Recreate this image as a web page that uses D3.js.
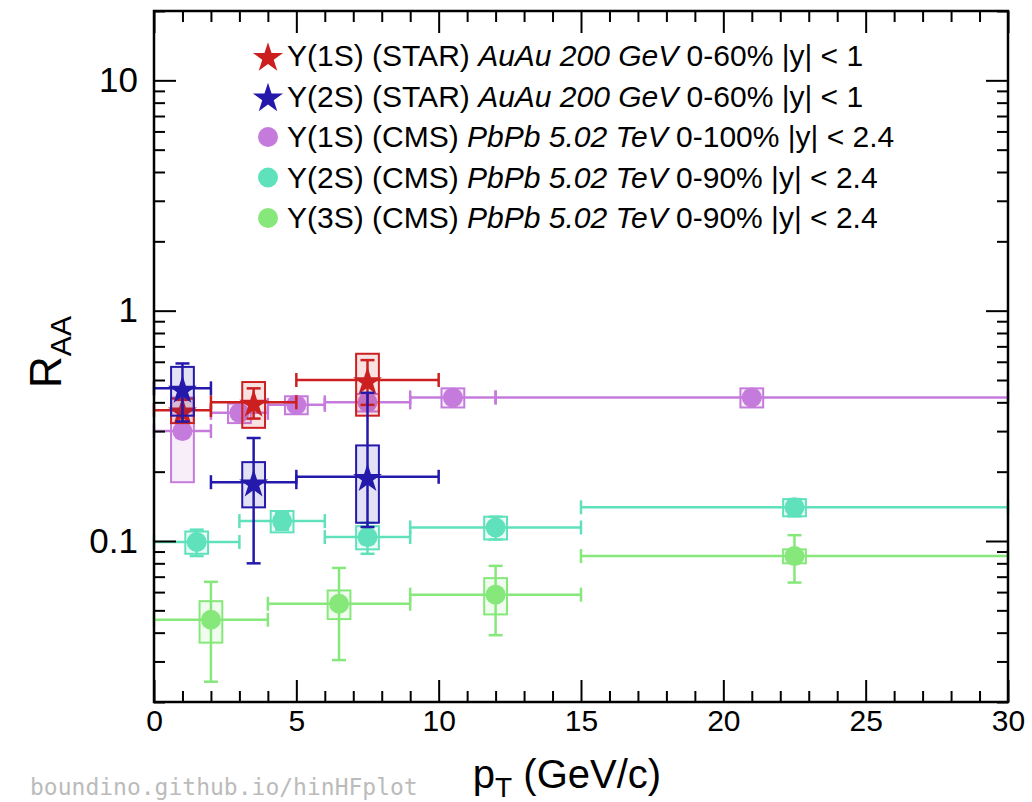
<!DOCTYPE html>
<html><head><meta charset="utf-8">
<script src="https://cdn.jsdelivr.net/npm/d3@7"></script>
<style>body{margin:0;background:#fff}svg{display:block}</style>
</head><body>
<svg id="c" width="1032" height="802"></svg>
<script>
// ---- data ----
const xMajorTicks = [0, 5, 10, 15, 20, 25, 30];
const yMajorTicks = [0.1, 1, 10];
const yTickLabels = ["0.1", "1", "10"];

// STAR AuAu 200 GeV
const starX   = [1, 3.5, 7.5];
const starXlo = [0, 2, 5];
const starXhi = [2, 5, 10];
const star1S      = [0.37, 0.40, 0.50];
const star1SStatLo = [0.04, 0.06, 0.11];
const star1SStatHi = [0.04, 0.06, 0.11];
const star1SSys   = [0.045, 0.09, 0.15];
const star2S      = [0.46, 0.18, 0.19];
const star2SStatLo = [0.13, 0.10, 0.075];
const star2SStatHi = [0.13, 0.10, 0.25];
const star2SSys   = [0.11, 0.04, 0.07];

// CMS PbPb 5.02 TeV
const cms1SX   = [1, 3, 5, 7.5, 10.5, 21];
const cms1SXlo = [0, 2, 4, 6, 9, 12];
const cms1SXhi = [2, 4, 6, 9, 12, 30];
const cms1S     = [0.30, 0.36, 0.39, 0.40, 0.42, 0.42];
const cms1SStat = [0.01, 0.01, 0.01, 0.01, 0.012, 0.015];
const cms1SSys  = [0.12, 0.035, 0.035, 0.035, 0.04, 0.04];

const cms2SX   = [1.5, 4.5, 7.5, 12, 22.5];
const cms2SXlo = [0, 3, 6, 9, 15];
const cms2SXhi = [3, 6, 9, 15, 30];
const cms2S     = [0.099, 0.122, 0.104, 0.1145, 0.14];
const cms2SStat = [0.013, 0.01, 0.016, 0.013, 0.012];
const cms2SSys  = [0.011, 0.013, 0.012, 0.013, 0.012];

const cms3SX   = [2, 6.5, 12, 22.5];
const cms3SXlo = [0, 4, 9, 15];
const cms3SXhi = [4, 9, 15, 30];
const cms3S     = [0.0455, 0.0534, 0.0585, 0.086];
const cms3SStat = [0.021, 0.023, 0.0195, 0.02];
const cms3SSys  = [0.0093, 0.0076, 0.0105, 0.006];

const legendEntries = [
  {pre: "Υ(1S) (STAR) ", it: "AuAu 200 GeV", post: " 0-60% |y| < 1", color: "#cc2020", shape: "star"},
  {pre: "Υ(2S) (STAR) ", it: "AuAu 200 GeV", post: " 0-60% |y| < 1", color: "#2419ab", shape: "star"},
  {pre: "Υ(1S) (CMS) ", it: "PbPb 5.02 TeV", post: " 0-100% |y| < 2.4", color: "#c57bdc", shape: "circle"},
  {pre: "Υ(2S) (CMS) ", it: "PbPb 5.02 TeV", post: " 0-90% |y| < 2.4", color: "#5fe1bc", shape: "circle"},
  {pre: "Υ(3S) (CMS) ", it: "PbPb 5.02 TeV", post: " 0-90% |y| < 2.4", color: "#86e87a", shape: "circle"}
];

// ---- layout ----
const L = 154, R = 1008, T = 11, B = 702;
const svg = d3.select("#c");
const x = d3.scaleLinear().domain([0, 30]).range([L, R]);
const y = d3.scaleLog().domain([0.02, 20]).range([B, T]);
const FONT = "'Liberation Sans', Arial, Helvetica, sans-serif";

function mkSeries(xs, xlo, xhi, v, slo, shi, sys, color, shape) {
  return xs.map((xx, i) => ({x: xx, xlo: xlo[i], xhi: xhi[i], v: v[i],
    slo: slo[i], shi: shi[i], sys: sys[i], color, shape}));
}
const series = [
  mkSeries(cms1SX, cms1SXlo, cms1SXhi, cms1S, cms1SStat, cms1SStat, cms1SSys, legendEntries[2].color, "circle"),
  mkSeries(cms2SX, cms2SXlo, cms2SXhi, cms2S, cms2SStat, cms2SStat, cms2SSys, legendEntries[3].color, "circle"),
  mkSeries(cms3SX, cms3SXlo, cms3SXhi, cms3S, cms3SStat, cms3SStat, cms3SSys, legendEntries[4].color, "circle"),
  mkSeries(starX, starXlo, starXhi, star1S, star1SStatLo, star1SStatHi, star1SSys, legendEntries[0].color, "star"),
  mkSeries(starX, starXlo, starXhi, star2S, star2SStatLo, star2SStatHi, star2SSys, legendEntries[1].color, "star")
];

const plot = svg.append("g");
const boxHalf = 0.4, cap = 7, lw = 2.5;
const starSym = d3.symbol().type(d3.symbolStar).size(260);
const starSymLeg = d3.symbol().type(d3.symbolStar).size(280);

series.forEach(s => {
  const g = plot.append("g");
  g.selectAll("rect.sys").data(s).join("rect").attr("class", "sys")
    .attr("x", d => x(d.x - boxHalf)).attr("width", d => x(d.x + boxHalf) - x(d.x - boxHalf))
    .attr("y", d => y(d.v + d.sys)).attr("height", d => y(d.v - d.sys) - y(d.v + d.sys))
    .attr("fill", d => d.color).attr("fill-opacity", 0.13)
    .attr("stroke", d => d.color).attr("stroke-width", 2);
  g.selectAll("line.h").data(s).join("line").attr("class", "h")
    .attr("x1", d => x(d.xlo)).attr("x2", d => x(d.xhi))
    .attr("y1", d => y(d.v)).attr("y2", d => y(d.v))
    .attr("stroke", d => d.color).attr("stroke-width", lw);
  g.selectAll("line.hc1").data(s).join("line").attr("class", "hc1")
    .attr("x1", d => x(d.xlo)).attr("x2", d => x(d.xlo))
    .attr("y1", d => y(d.v) - cap).attr("y2", d => y(d.v) + cap)
    .attr("stroke", d => d.color).attr("stroke-width", lw);
  g.selectAll("line.hc2").data(s).join("line").attr("class", "hc2")
    .attr("x1", d => x(d.xhi)).attr("x2", d => x(d.xhi))
    .attr("y1", d => y(d.v) - cap).attr("y2", d => y(d.v) + cap)
    .attr("stroke", d => d.color).attr("stroke-width", lw);
  g.selectAll("line.v").data(s).join("line").attr("class", "v")
    .attr("x1", d => x(d.x)).attr("x2", d => x(d.x))
    .attr("y1", d => y(d.v + d.shi)).attr("y2", d => y(d.v - d.slo))
    .attr("stroke", d => d.color).attr("stroke-width", lw);
  g.selectAll("line.vc1").data(s).join("line").attr("class", "vc1")
    .attr("x1", d => x(d.x) - cap).attr("x2", d => x(d.x) + cap)
    .attr("y1", d => y(d.v + d.shi)).attr("y2", d => y(d.v + d.shi))
    .attr("stroke", d => d.color).attr("stroke-width", lw);
  g.selectAll("line.vc2").data(s).join("line").attr("class", "vc2")
    .attr("x1", d => x(d.x) - cap).attr("x2", d => x(d.x) + cap)
    .attr("y1", d => y(d.v - d.slo)).attr("y2", d => y(d.v - d.slo))
    .attr("stroke", d => d.color).attr("stroke-width", lw);
  if (s[0].shape === "circle") {
    g.selectAll("circle.m").data(s).join("circle").attr("class", "m")
      .attr("cx", d => x(d.x)).attr("cy", d => y(d.v)).attr("r", 10)
      .attr("fill", d => d.color);
  } else {
    g.selectAll("path.m").data(s).join("path").attr("class", "m")
      .attr("d", starSym)
      .attr("transform", d => `translate(${x(d.x)},${y(d.v) + 2})`)
      .attr("fill", d => d.color);
  }
});

// ---- axes (inward ticks) ----
const axG = svg.append("g").attr("font-family", FONT);
const xMinor = d3.range(0, 31, 1).filter(v => v % 5 !== 0);
const yMinor = [];
[0.01, 0.1, 1, 10].forEach(dec => { for (let k = 2; k <= 9; k++) { const v = k * dec; if (v >= 0.02 && v <= 20) yMinor.push(v); } });

function styleAxis(g) { g.select(".domain").remove(); g.selectAll("line").attr("stroke", "#000").attr("stroke-width", 2); }

axG.append("g").attr("transform", `translate(0,${B})`)
  .call(d3.axisBottom(x).tickValues(xMajorTicks).tickSize(-22).tickPadding(8).tickFormat(d3.format("d")))
  .call(styleAxis)
  .call(g => g.selectAll("text").attr("font-size", 30).attr("font-family", FONT).attr("fill", "#000"));
axG.append("g").attr("transform", `translate(0,${B})`)
  .call(d3.axisBottom(x).tickValues(xMinor).tickSize(-11).tickFormat(""))
  .call(styleAxis);
axG.append("g").attr("transform", `translate(0,${T})`)
  .call(d3.axisTop(x).tickValues(xMajorTicks).tickSize(-22).tickFormat(""))
  .call(styleAxis);
axG.append("g").attr("transform", `translate(0,${T})`)
  .call(d3.axisTop(x).tickValues(xMinor).tickSize(-11).tickFormat(""))
  .call(styleAxis);

axG.append("g").attr("transform", `translate(${L},0)`)
  .call(d3.axisLeft(y).tickValues(yMajorTicks).tickSize(-22).tickPadding(16)
    .tickFormat((d, i) => yTickLabels[i]))
  .call(styleAxis)
  .call(g => g.selectAll("text").attr("font-size", 35).attr("font-family", FONT).attr("fill", "#000"));
axG.append("g").attr("transform", `translate(${L},0)`)
  .call(d3.axisLeft(y).tickValues(yMinor).tickSize(-11).tickFormat(""))
  .call(styleAxis);
axG.append("g").attr("transform", `translate(${R},0)`)
  .call(d3.axisRight(y).tickValues(yMajorTicks).tickSize(-22).tickFormat(""))
  .call(styleAxis);
axG.append("g").attr("transform", `translate(${R},0)`)
  .call(d3.axisRight(y).tickValues(yMinor).tickSize(-11).tickFormat(""))
  .call(styleAxis);

svg.append("rect").attr("x", L).attr("y", T).attr("width", R - L).attr("height", B - T)
  .attr("fill", "none").attr("stroke", "#000").attr("stroke-width", 2.5);

// ---- axis titles ----
const xt = svg.append("text").attr("x", 567).attr("y", 788).attr("text-anchor", "middle")
  .attr("font-family", FONT).attr("font-size", 40).attr("fill", "#000");
xt.append("tspan").text("p");
xt.append("tspan").attr("font-size", 28).attr("dy", 9).text("T");
xt.append("tspan").attr("dy", -9).text(" (GeV/c)");

const yt = svg.append("text").attr("transform", "translate(61,352) rotate(-90)").attr("text-anchor", "middle")
  .attr("font-family", FONT).attr("font-size", 44).attr("fill", "#000");
yt.append("tspan").text("R");
yt.append("tspan").attr("font-size", 30).attr("dy", 10).text("AA");

// ---- legend ----
const legY0 = 56, legDy = 40.5;
const leg = svg.append("g");
legendEntries.forEach((e, i) => {
  const ly = legY0 + i * legDy;
  if (e.shape === "star") {
    leg.append("path").attr("d", starSymLeg).attr("transform", `translate(268,${ly + 2})`).attr("fill", e.color);
  } else {
    leg.append("circle").attr("cx", 268).attr("cy", ly).attr("r", 10).attr("fill", e.color);
  }
  const t = leg.append("text").attr("x", 287).attr("y", ly + 10)
    .attr("font-family", FONT).attr("font-size", 30).attr("fill", "#000");
  t.append("tspan").text(e.pre);
  t.append("tspan").attr("font-style", "italic").text(e.it);
  t.append("tspan").text(e.post);
});

// ---- watermark ----
svg.append("text").attr("x", 30).attr("y", 795).attr("font-family", "'DejaVu Sans Mono', monospace")
  .attr("font-size", 23).attr("fill", "#bbbbbb").text("boundino.github.io/hinHFplot");
</script>
</body></html>
